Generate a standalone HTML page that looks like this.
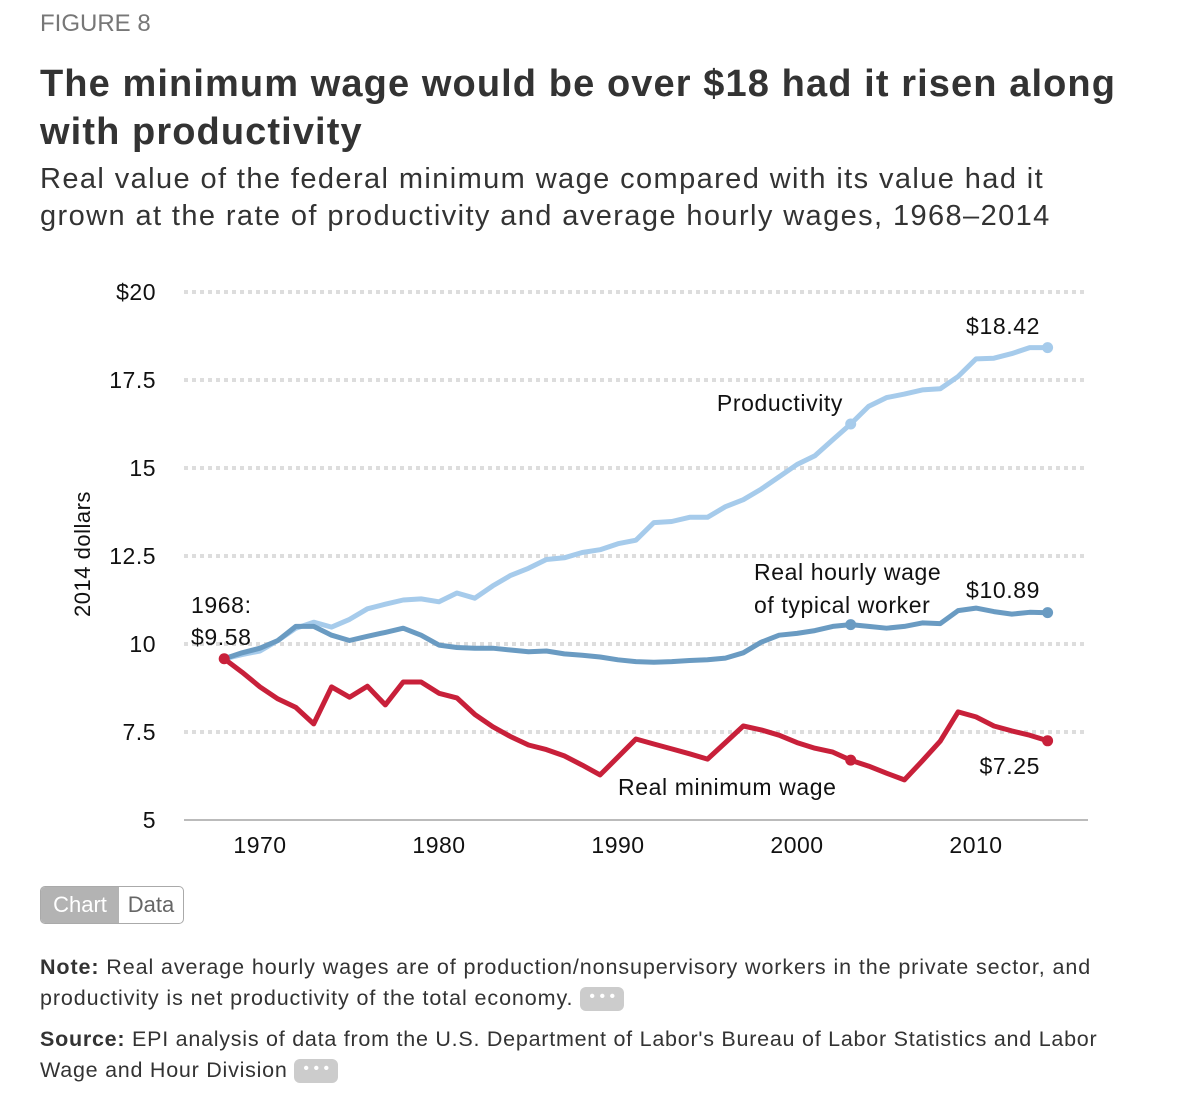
<!DOCTYPE html>
<html><head><meta charset="utf-8"><style>
body{margin:0;background:#fff;font-family:"Liberation Sans",sans-serif;color:#222;}
#wrap{position:relative;width:1200px;height:1102px;overflow:hidden;}
.abs{position:absolute;margin:0;white-space:nowrap;}
</style></head><body>
<div id="wrap">
<div class="abs" style="left:40px;top:10px;font-size:24px;color:#777;">FIGURE 8</div>
<div class="abs" style="left:40px;top:60px;font-size:38px;letter-spacing:1.1px;font-weight:bold;line-height:48px;color:#333;">The minimum wage would be over $18 had it risen along<br>with productivity</div>
<div class="abs" style="left:40px;top:161px;font-size:29px;letter-spacing:1.4px;line-height:37px;color:#333;">Real value of the federal minimum wage compared with its value had it<br>grown at the rate of productivity and average hourly wages, 1968–2014</div>
<svg class="abs" style="left:0;top:0" width="1200" height="880" id="chart"></svg>
<div class="abs" style="left:40px;top:886px;width:142px;height:36px;border:1px solid #aaa;border-radius:5px;overflow:hidden;font-size:22px;display:flex;">
<div style="width:78px;background:#b3b3b3;color:#fff;text-align:center;line-height:36px;">Chart</div>
<div style="flex:1;color:#666;text-align:center;line-height:36px;">Data</div>
</div>
<div class="abs" style="left:40px;top:952px;font-size:21.5px;letter-spacing:0.9px;line-height:31px;color:#333;"><b>Note:</b> Real average hourly wages are of production/nonsupervisory workers in the private sector, and<br>productivity is net productivity of the total economy. <span style="display:inline-block;width:44px;height:24px;background:#ccc;border-radius:6px;vertical-align:middle;color:#fff;font-size:16px;letter-spacing:0;text-align:center;line-height:20px;">• • •</span></div>
<div class="abs" style="left:40px;top:1024px;font-size:21.5px;letter-spacing:0.75px;line-height:31px;color:#333;"><b>Source:</b> EPI analysis of data from the U.S. Department of Labor's Bureau of Labor Statistics and Labor<br>Wage and Hour Division <span style="display:inline-block;width:44px;height:24px;background:#ccc;border-radius:6px;vertical-align:middle;color:#fff;font-size:16px;letter-spacing:0;text-align:center;line-height:20px;">• • •</span></div>
</div>
<script>
const years=[];for(let y=1968;y<=2014;y++)years.push(y);
const minWage=[9.58,9.2,8.78,8.44,8.2,7.73,8.78,8.49,8.8,8.27,8.92,8.92,8.6,8.47,8.0,7.65,7.37,7.13,7.0,6.82,6.56,6.28,6.79,7.3,7.16,7.02,6.88,6.73,7.2,7.67,7.56,7.41,7.2,7.04,6.93,6.7,6.53,6.33,6.14,6.68,7.24,8.07,7.93,7.67,7.53,7.41,7.25];
const wage=[9.58,9.75,9.88,10.1,10.5,10.5,10.25,10.1,10.22,10.33,10.45,10.25,9.97,9.9,9.88,9.88,9.83,9.78,9.8,9.72,9.68,9.63,9.55,9.5,9.48,9.5,9.53,9.55,9.6,9.75,10.05,10.25,10.3,10.38,10.5,10.55,10.5,10.45,10.5,10.6,10.58,10.95,11.02,10.92,10.85,10.9,10.89];
const productivity=[9.58,9.7,9.8,10.1,10.45,10.62,10.48,10.7,11.0,11.13,11.25,11.28,11.2,11.45,11.3,11.65,11.95,12.15,12.4,12.45,12.6,12.68,12.85,12.95,13.45,13.48,13.6,13.6,13.9,14.1,14.4,14.75,15.1,15.35,15.8,16.25,16.75,17.0,17.1,17.22,17.25,17.6,18.1,18.12,18.25,18.42,18.42];
const yTicks=[5,7.5,10,12.5,15,17.5,20];
const yTickLabels=["5","7.5","10","12.5","15","17.5","$20"];
const xTicks=[1970,1980,1990,2000,2010];
const NS="http://www.w3.org/2000/svg";
const svg=document.getElementById('chart');
const x=v=>260+(v-1970)*17.9;
const y=v=>820-(v-5)*35.2;
function mk(t,a){const e=document.createElementNS(NS,t);for(const k in a)e.setAttribute(k,a[k]);svg.appendChild(e);return e;}
yTicks.forEach((t,i)=>{
  if(t>5){const g=mk('line',{x1:184,x2:1088,y1:y(t),y2:y(t),stroke:'#ddd','stroke-width':4,'stroke-dasharray':'4 4'});
  
  }
  const l=mk('text',{x:156,y:y(t)+8,'text-anchor':'end','font-size':23,'letter-spacing':0.5,fill:'#111'});l.textContent=yTickLabels[i];
  
  
});
const ax=mk('line',{x1:184,x2:1088,y1:820,y2:820,stroke:'#bbb','stroke-width':2});


xTicks.forEach(t=>{
  const l=mk('text',{x:x(t),y:853,'text-anchor':'middle','font-size':23,'letter-spacing':0.5,fill:'#111'});l.textContent=t;
  
  
});
const yt=mk('text',{x:90,y:554,'text-anchor':'middle','font-size':22,'letter-spacing':0.5,fill:'#111',transform:'rotate(-90 90 554)'});yt.textContent='2014 dollars';


function series(vals,color,name){
  const p=mk('path',{d:vals.map((v,i)=>(i?'L':'M')+x(years[i]).toFixed(1)+','+y(v).toFixed(1)).join(''),fill:'none',stroke:color,'stroke-width':5,'stroke-linejoin':'round'});
  
  
  [2003,2014].forEach(yr=>{const i=years.indexOf(yr);const c=mk('circle',{cx:x(yr),cy:y(vals[i]),r:5.5,fill:color});
    
    });
}
series(productivity,'#a6cbeb','productivity-line');
series(wage,'#6a9bc2','typical-wage-line');
series(minWage,'#c8203a','min-wage-line');
const c0=mk('circle',{cx:x(1968),cy:y(minWage[0]),r:5.5,fill:'#c8203a'});


function lab(tx,xx,yy,anchor,name){const t=mk('text',{x:xx,y:yy,'text-anchor':anchor||'start','font-size':23,'letter-spacing':0.6,fill:'#111'});t.textContent=tx;
  
  }
lab('$18.42',1040,334,'end','productivity-end-label');
lab('Productivity',843,411,'end','productivity-label');
lab('Real hourly wage',754,580,'start','wage-label');
lab('of typical worker',754,613,'start','wage-label-2');
lab('$10.89',1040,598,'end','wage-end-label');
lab('1968:',191,613,'start','start-label');
lab('$9.58',191,645,'start','start-value-label');
lab('$7.25',1040,774,'end','min-wage-end-label');
lab('Real minimum wage',618,795,'start','min-wage-label');
</script>
</body></html>
